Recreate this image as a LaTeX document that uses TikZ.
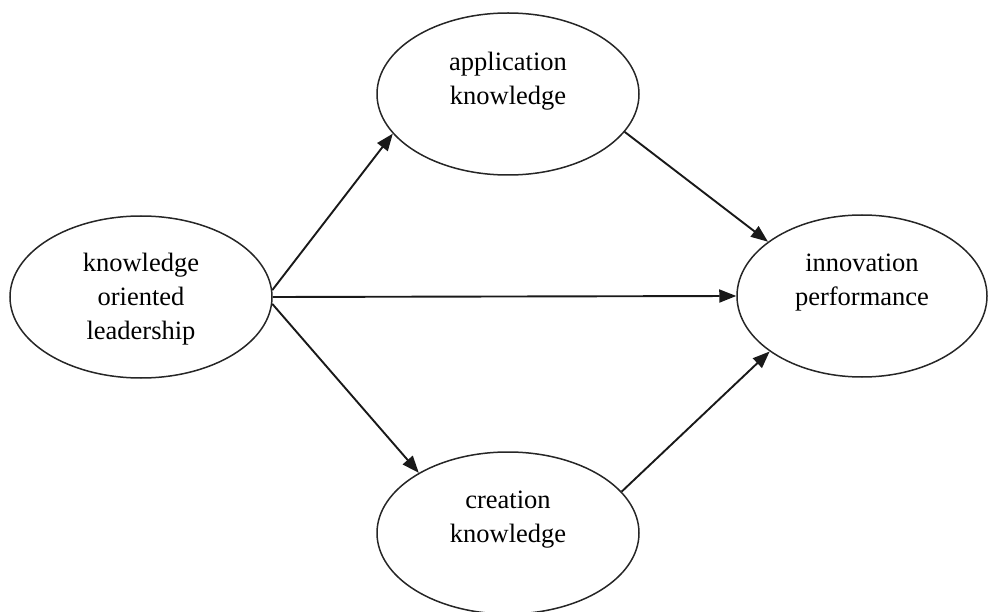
\documentclass[tikz,border=0pt]{standalone}
\usepackage{fontspec}
\setmainfont{Liberation Serif}
\usetikzlibrary{shapes.geometric,arrows.meta}
\tikzset{
  ell/.style={draw=black!85, line width=1.5pt, ellipse, minimum width=262pt, minimum height=162pt, inner sep=0pt},
  lbl/.style={align=center, font=\fontsize{26.5}{34}\selectfont, inner sep=0pt},
  arr/.style={draw=black!90, line width=1.9pt, -{Triangle[length=17pt,width=13pt]}}
}
\begin{document}
\begin{tikzpicture}[x=1pt,y=-1pt]
\useasboundingbox (0,0) rectangle (988,612);
\node[ell] (lead) at (141,297) {};
\node[ell] (app) at (508,94) {};
\node[ell, minimum width=250pt] (perf) at (862,296) {};
\node[ell] (crea) at (508,533) {};
\node[lbl] (leadt) at (141,299) {knowledge\\oriented\\leadership};
\node[lbl] (appt) at (508,81) {application\\knowledge};
\node[lbl] (perft) at (862,283) {innovation\\performance};
\node[lbl] (creat) at (508,520) {creation\\knowledge};
\draw[arr] (lead.3) -- (app.199);
\draw[arr] (lead.east) -- (perf.west);
\draw[arr] (lead.-3) -- (crea.146);
\draw[arr] (app.-18) -- (perf.150);
\draw[arr] (crea.20) -- (perf.211);
\end{tikzpicture}
\end{document}
